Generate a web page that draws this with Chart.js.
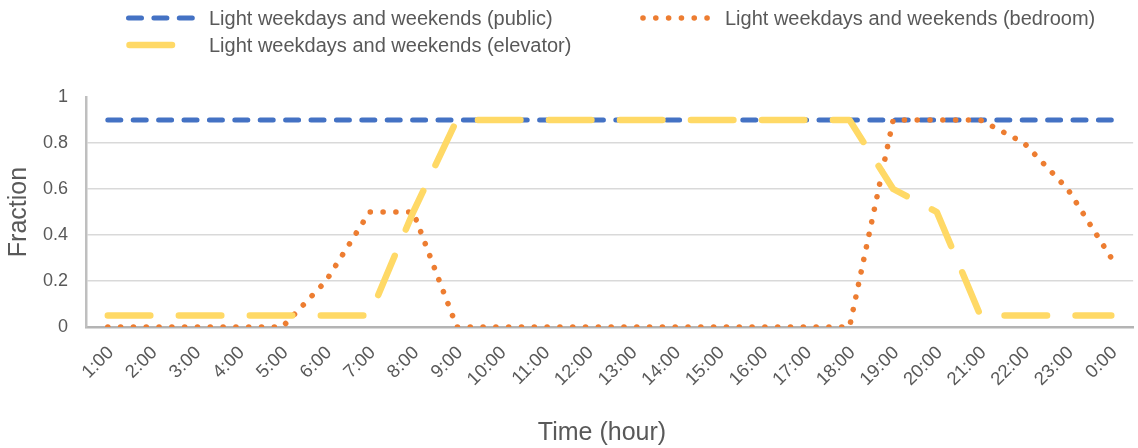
<!DOCTYPE html>
<html>
<head>
<meta charset="utf-8">
<title>Lighting schedules</title>
<script src="https://cdn.jsdelivr.net/npm/chart.js@4.4.1/dist/chart.umd.min.js"></script>
<style>
  html, body { margin: 0; padding: 0; background: #ffffff; overflow: hidden; }
  #wrap { position: relative; width: 1142px; height: 448px; }
</style>
</head>
<body>
<div id="wrap"><canvas id="chart"></canvas></div>
<script>
// Hourly categories (end of each hour)
const hours = ['1:00', '2:00', '3:00', '4:00', '5:00', '6:00', '7:00', '8:00', '9:00', '10:00', '11:00', '12:00',
               '13:00', '14:00', '15:00', '16:00', '17:00', '18:00', '19:00', '20:00', '21:00', '22:00', '23:00', '0:00'];

// Fraction of lighting in use per hour
const publicLight   = [0.9, 0.9, 0.9, 0.9, 0.9, 0.9, 0.9, 0.9, 0.9, 0.9, 0.9, 0.9,
                       0.9, 0.9, 0.9, 0.9, 0.9, 0.9, 0.9, 0.9, 0.9, 0.9, 0.9, 0.9];
const bedroomLight  = [0, 0, 0, 0, 0, 0.2, 0.5, 0.5, 0, 0, 0, 0,
                       0, 0, 0, 0, 0, 0, 0.9, 0.9, 0.9, 0.8, 0.6, 0.3];
const elevatorLight = [0.05, 0.05, 0.05, 0.05, 0.05, 0.05, 0.05, 0.5, 0.9, 0.9, 0.9, 0.9,
                       0.9, 0.9, 0.9, 0.9, 0.9, 0.9, 0.6, 0.5, 0.05, 0.05, 0.05, 0.05];

// Y axis tick values
const yTicks = [0, 0.2, 0.4, 0.6, 0.8, 1];

const seriesNames = [
  'Light weekdays and weekends (public)',
  'Light weekdays and weekends (bedroom)',
  'Light weekdays and weekends (elevator)'
];

const TEXT = '#595959';
const FONT = "'Liberation Sans', Arial, sans-serif";

Chart.defaults.font.family = FONT;
Chart.defaults.color = TEXT;

// Line styles shared by the plot and the legend samples
const styles = {
  public:   { color: '#4472C4', width: 5,   dash: [13, 12.4] },
  bedroom:  { color: '#ED7D31', width: 5.6, dash: [0.01, 12.8] },
  elevator: { color: '#FFD966', width: 6.5, dash: [42.5, 28.5] }
};

// Legend drawn on the canvas: two rows, line samples followed by labels
const legendPlugin = {
  id: 'sampleLegend',
  afterDraw(chart) {
    const ctx = chart.ctx;
    const items = [
      { st: styles.public,   x0: 128.5, x1: 193,   tx: 209, y: 18 },
      { st: styles.bedroom,  x0: 643,   x1: 708,   tx: 725, y: 18 },
      { st: styles.elevator, x0: 129.5, x1: 200.5, tx: 209, y: 45 }
    ];
    ctx.save();
    items.forEach((it, i) => {
      ctx.beginPath();
      ctx.strokeStyle = it.st.color;
      ctx.lineWidth = it.st.width;
      ctx.lineCap = 'round';
      ctx.setLineDash(it.st.dash);
      ctx.moveTo(it.x0, it.y);
      ctx.lineTo(it.x1, it.y);
      ctx.stroke();
      ctx.setLineDash([]);
      ctx.fillStyle = TEXT;
      ctx.font = '20px ' + FONT;
      ctx.textAlign = 'left';
      ctx.textBaseline = 'middle';
      ctx.fillText(seriesNames[i], it.tx, it.y + 1);
    });
    // horizontal axis title
    ctx.font = '25px ' + FONT;
    ctx.textAlign = 'center';
    ctx.textBaseline = 'middle';
    ctx.fillText('Time (hour)', 602, 433);
    ctx.restore();
  }
};

new Chart(document.getElementById('chart'), {
  type: 'line',
  data: {
    labels: hours,
    datasets: [
      {
        label: seriesNames[0], data: publicLight, order: 3,
        borderColor: styles.public.color, borderWidth: styles.public.width,
        borderDash: styles.public.dash, borderCapStyle: 'round'
      },
      {
        label: seriesNames[1], data: bedroomLight, order: 2,
        borderColor: styles.bedroom.color, borderWidth: styles.bedroom.width,
        borderDash: styles.bedroom.dash, borderCapStyle: 'round'
      },
      {
        label: seriesNames[2], data: elevatorLight, order: 1,
        borderColor: styles.elevator.color, borderWidth: styles.elevator.width,
        borderDash: styles.elevator.dash, borderCapStyle: 'round'
      }
    ]
  },
  options: {
    responsive: true,
    maintainAspectRatio: false,
    animation: false,
    events: [],
    layout: { padding: { top: 97, right: 0, bottom: 0, left: 0 } },
    elements: {
      point: { radius: 0, hoverRadius: 0 },
      line: { tension: 0, fill: false, borderJoinStyle: 'round' }
    },
    plugins: {
      legend: { display: false },
      tooltip: { enabled: false },
      title: { display: false }
    },
    scales: {
      x: {
        type: 'category',
        offset: true,
        grid: { display: false, drawTicks: false },
        border: { display: true, color: '#b4b4b4', width: 2.5 },
        ticks: {
          autoSkip: false,
          minRotation: 45,
          maxRotation: 45,
          padding: 15,
          labelOffset: 3,
          color: TEXT,
          font: { size: 18.5, family: FONT }
        },
        afterFit(scale) { scale.height = 121; }
      },
      y: {
        min: 0,
        max: 1,
        afterBuildTicks(scale) { scale.ticks = yTicks.map(v => ({ value: v })); },
        grid: {
          drawTicks: false,
          lineWidth: 1.6,
          color: ctx => (ctx.tick && ctx.tick.value > 0 && ctx.tick.value < 1) ? '#d9d9d9' : 'rgba(0,0,0,0)'
        },
        border: { display: true, color: '#bfbfbf', width: 2.5 },
        ticks: {
          padding: 18,
          color: TEXT,
          font: { size: 18, family: FONT },
          callback: value => String(value)
        },
        title: {
          display: true,
          text: 'Fraction',
          color: TEXT,
          font: { size: 25, family: FONT },
          padding: { top: 4, bottom: 0 }
        },
        afterFit(scale) { scale.width = 86; }
      }
    }
  },
  plugins: [legendPlugin]
});
</script>
</body>
</html>
